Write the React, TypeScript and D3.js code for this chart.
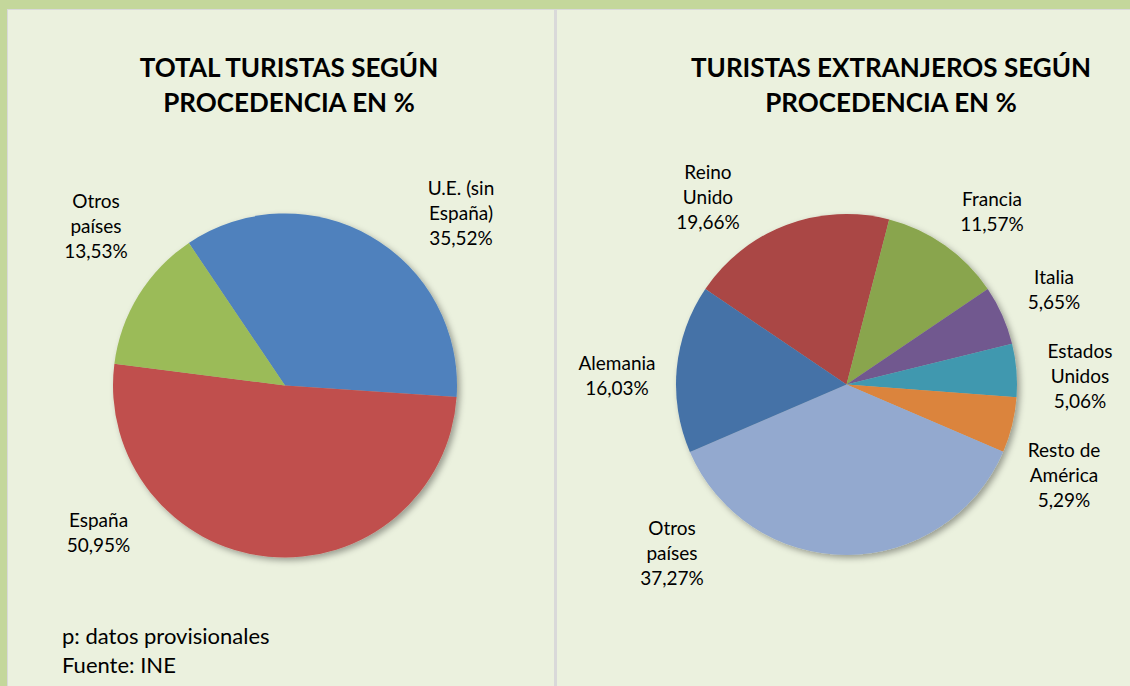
import React from "react";
import * as d3 from "d3";

// ---- Data ----
const leftCategories = ["U.E. (sin España)", "España", "Otros países"];
const leftValues = [35.52, 50.95, 13.53];
const leftLabelLines = [["U.E. (sin", "España)", "35,52%"], ["España", "50,95%"], ["Otros", "países", "13,53%"]];

const rightCategories = ["Reino Unido", "Francia", "Italia", "Estados Unidos", "Resto de América", "Otros países", "Alemania"];
const rightValues = [19.66, 11.57, 5.65, 5.06, 5.29, 37.27, 16.03];
const rightLabelLines = [
  ["Reino", "Unido", "19,66%"],
  ["Francia", "11,57%"],
  ["Italia", "5,65%"],
  ["Estados", "Unidos", "5,06%"],
  ["Resto de", "América", "5,29%"],
  ["Otros", "países", "37,27%"],
  ["Alemania", "16,03%"],
];

// ---- Styles / layout ----
const leftColors = ["#4f81bd", "#c0504d", "#9bbb59"];
const rightColors = ["#aa4644", "#89a54e", "#71588f", "#4198af", "#db843d", "#93a9cf", "#4572a7"];
const leftLabelOffsets: [number, number][] = [[176, -172.5], [-186.5, 147], [-189, -159.5]];
const rightLabelOffsets: [number, number][] = [
  [-138.5, -187.5], [145.5, -173.5], [207.5, -95], [233.5, -8.5], [217.5, 90.5], [-174.5, 168.5], [-229.5, -9.5],
];

const FONT = "Lato, 'Open Sans', sans-serif";
const deg = Math.PI / 180;

type PieProps = {
  cx: number; cy: number; r: number; start: number;
  cats: string[]; values: number[]; colors: string[];
  lines: string[][]; offsets: [number, number][];
};

function Pie({ cx, cy, r, start, cats, values, colors, lines, offsets }: PieProps) {
  const data = cats.map((c, i) => ({ c, v: values[i], i }));
  const pie = d3.pie<any>().sort(null).value((d) => d.v).startAngle(start * deg).endAngle(start * deg + 2 * Math.PI);
  const arcs = pie(data);
  const arc = d3.arc<any>().innerRadius(0).outerRadius(r);
  const lh = 25;
  return (
    <g>
      <g transform={`translate(${cx},${cy})`} filter="url(#shadow)">
        {arcs.map((a) => (
          <path key={a.data.c} d={arc(a) as string} fill={colors[a.data.i]} />
        ))}
      </g>
      {arcs.map((a) => {
        const ls = lines[a.data.i];
        const [ox, oy] = offsets[a.data.i];
        return (
          <text key={"l" + a.data.c} fontFamily={FONT} fontSize={19} fill="#000" textAnchor="middle">
            {ls.map((t, k) => (
              <tspan key={k} x={cx + ox} y={cy + oy + (k - (ls.length - 1) / 2) * lh + 7}>{t}</tspan>
            ))}
          </text>
        );
      })}
    </g>
  );
}

export default function App() {
  return (
    <div style={{ position: "absolute", left: 0, top: 0 }}>
      <svg width={1130} height={686} style={{ display: "block" }}>
        <defs>
          <filter id="shadow" x="-20%" y="-20%" width="140%" height="140%">
            <feDropShadow dx={3} dy={3} stdDeviation={3} floodColor="#000" floodOpacity={0.35} />
          </filter>
        </defs>
        <rect x={0} y={0} width={1130} height={686} fill="#c4d79b" />
        <rect x={7} y={9} width={1123} height={677} fill="#d9d9d9" />
        <rect x={8} y={10} width={546} height={676} fill="#ebf1de" />
        <rect x={557} y={10} width={573} height={676} fill="#ebf1de" />

        <text fontFamily={FONT} fontWeight="bold" fontSize={26} textAnchor="middle" fill="#000">
          <tspan x={289} y={77}>TOTAL TURISTAS SEGÚN</tspan>
          <tspan x={289} y={112}>PROCEDENCIA EN %</tspan>
        </text>
        <text fontFamily={FONT} fontWeight="bold" fontSize={26} textAnchor="middle" fill="#000">
          <tspan x={891} y={77}>TURISTAS EXTRANJEROS SEGÚN</tspan>
          <tspan x={891} y={112}>PROCEDENCIA EN %</tspan>
        </text>

        <Pie cx={285} cy={385.5} r={172} start={-34} cats={leftCategories} values={leftValues} colors={leftColors}
          lines={leftLabelLines} offsets={leftLabelOffsets} />
        <Pie cx={846.5} cy={384.5} r={170.5} start={-55.9} cats={rightCategories} values={rightValues} colors={rightColors}
          lines={rightLabelLines} offsets={rightLabelOffsets} />

        <text fontFamily={FONT} fontSize={22} fill="#000">
          <tspan x={62} y={644}>p: datos provisionales</tspan>
          <tspan x={62} y={673}>Fuente: INE</tspan>
        </text>
      </svg>
    </div>
  );
}
